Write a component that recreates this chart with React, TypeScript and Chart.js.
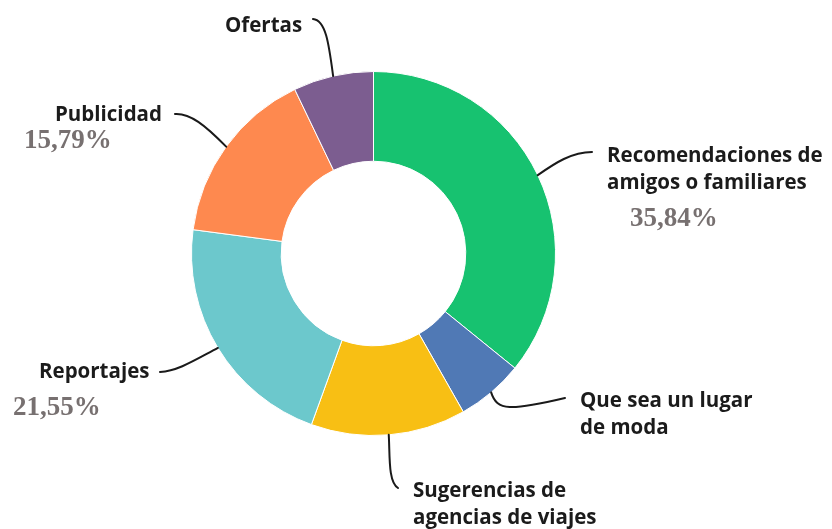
import React, { useEffect, useRef } from "react";
import { Chart, registerables } from "chart.js";

Chart.register(...registerables);

const categories = [
  "Recomendaciones de amigos o familiares",
  "Que sea un lugar de moda",
  "Sugerencias de agencias de viajes",
  "Reportajes",
  "Publicidad",
  "Ofertas",
];
const values = [35.84, 5.95, 13.75, 21.55, 15.79, 7.12];
const shownPercent = [true, false, false, true, true, false];
const colors = ["#17C270", "#5079B5", "#F8BF14", "#6CC8CC", "#FE894F", "#7C5D90"];

// label layout (annotation positions, not data)
const labelLines = [
  ["Recomendaciones de", "amigos o familiares"],
  ["Que sea un lugar", "de moda"],
  ["Sugerencias de", "agencias de viajes"],
  ["Reportajes"],
  ["Publicidad"],
  ["Ofertas"],
];
const labelPos = [
  { x: 607, y: 162 },
  { x: 580, y: 407 },
  { x: 413, y: 497 },
  { x: 39, y: 378 },
  { x: 55, y: 121 },
  { x: 225, y: 32 },
];
const pctPos = [
  { x: 630, y: 226 },
  null,
  null,
  { x: 13, y: 415 },
  { x: 24, y: 148 },
  null,
];
const leaders = [
  [[555, 163], [572, 152], [592, 152]],
  [[497, 411], [510, 411], [565, 398]],
  [[390, 455], [388, 482], [398, 488]],
  [[195, 360], [178, 371], [160, 372]],
  [[205, 125], [190, 113], [175, 114]],
  [[329, 45], [326, 20], [313, 19]],
];

const fmt = (v: number) => v.toFixed(2).replace(".", ",") + "%";

const labelPlugin = {
  id: "leaderLabels",
  afterDatasetsDraw(chart: any) {
    const ctx = chart.ctx;
    const meta = chart.getDatasetMeta(0);
    meta.data.forEach((arc: any, i: number) => {
      const p = arc.getProps(["x", "y", "startAngle", "endAngle", "outerRadius"], true);
      const mid = (p.startAngle + p.endAngle) / 2;
      const sx = p.x + Math.cos(mid) * p.outerRadius;
      const sy = p.y + Math.sin(mid) * p.outerRadius;
      const l = leaders[i];
      ctx.save();
      ctx.strokeStyle = "#1a1a1a";
      ctx.lineWidth = 2;
      ctx.lineCap = "round";
      ctx.beginPath();
      ctx.moveTo(sx, sy);
      ctx.bezierCurveTo(l[0][0], l[0][1], l[1][0], l[1][1], l[2][0], l[2][1]);
      ctx.stroke();
      ctx.fillStyle = "#1b1b1b";
      ctx.font = "700 20.5px 'Open Sans'";
      ctx.textBaseline = "alphabetic";
      ctx.textAlign = "left";
      labelLines[i].forEach((t, k) => {
        ctx.fillText(t, labelPos[i].x, labelPos[i].y + k * 27);
      });
      const pp = pctPos[i];
      if (shownPercent[i] && pp) {
        ctx.fillStyle = "#777070";
        ctx.font = "bold 27px 'Liberation Serif'";
        ctx.fillText(fmt(values[i]), pp.x, pp.y);
      }
      ctx.restore();
    });
  },
};

export default function App() {
  const ref = useRef<HTMLCanvasElement>(null);
  useEffect(() => {
    if (!ref.current) return;
    const chart = new Chart(ref.current, {
      type: "doughnut",
      data: {
        labels: categories,
        datasets: [
          {
            data: values,
            backgroundColor: colors,
            borderColor: "#ffffff",
            borderWidth: 1,
          },
        ],
      },
      options: {
        responsive: false,
        animation: false,
        cutout: "50.7%",
        layout: { padding: { left: 190, right: 275, top: 71, bottom: 93 } },
        plugins: { legend: { display: false }, tooltip: { enabled: false } },
      },
      plugins: [labelPlugin],
    });
    return () => chart.destroy();
  }, []);
  return (
    <div style={{ position: "absolute", left: 0, top: 0, width: 832, height: 529, background: "#fff" }}>
      <canvas ref={ref} width={832} height={529} />
    </div>
  );
}
